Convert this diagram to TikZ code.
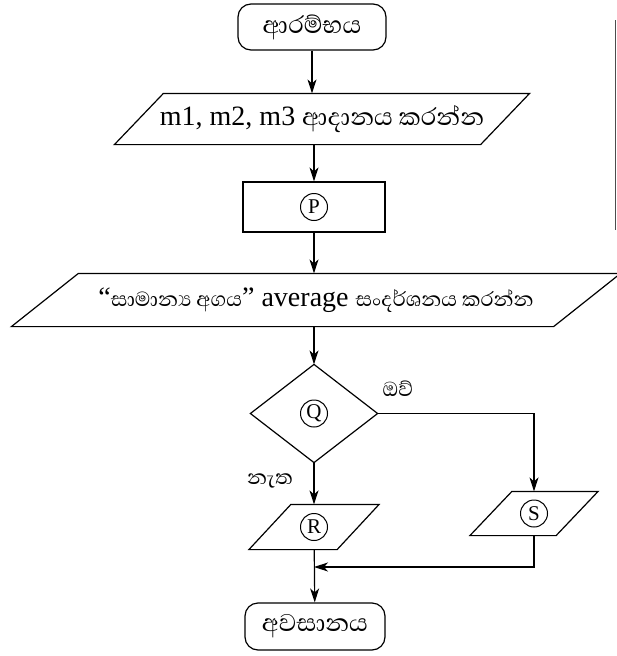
\documentclass[tikz,border=0pt]{standalone}
\usepackage{fontspec}
\setmainfont{Liberation Serif}
\newfontfamily\sinhfont[Script=Sinhala]{Abhaya Libre}
\usetikzlibrary{arrows.meta,calc}
\tikzset{
  x=1pt, y=-1pt,
  every path/.style={line width=1.2pt},
  arr/.style={-{Stealth[length=14pt,width=9pt,inset=4pt]}},
  term/.style={draw, rectangle, rounded corners=13pt, inner sep=0pt, line width=1.2pt},
  procbox/.style={draw, rectangle, inner sep=0pt, line width=1.2pt},
  plain/.style={rectangle, inner sep=0pt},
  letter/.style={draw, circle, minimum size=27pt, inner sep=0pt, line width=1pt, font=\fontsize{21}{21}\selectfont},
  lbl/.style={inner sep=0pt, font=\sinhfont\fontsize{26}{28}\selectfont}
}
\begin{document}
\begin{tikzpicture}
\useasboundingbox (0,0) rectangle (616,656);
% start
\node[term, minimum width=148pt, minimum height=46pt, font=\sinhfont\fontsize{31}{34}\selectfont] (start) at (312,27) {ආරම්භය};
% input parallelogram
\node[plain, minimum width=365pt, minimum height=50pt, font=\fontsize{28}{32}\selectfont] (inp) at (322,119) {m1, m2, m3 {\sinhfont\fontsize{31}{34}\selectfont ආදානය කරන්න}};
\draw ([xshift=24.5pt]inp.north west) -- ([xshift=24.5pt]inp.north east) -- ([xshift=-24.5pt]inp.south east) -- ([xshift=-24.5pt]inp.south west) -- cycle;
% process P
\node[procbox, minimum width=142pt, minimum height=50pt] (P) at (314,207) {};
\node[letter] (cP) at (P) {P};
% output parallelogram
\node[plain, minimum width=541pt, minimum height=52pt, font=\fontsize{28}{32}\selectfont] (out) at (316,300) {“{\sinhfont\fontsize{26}{30}\selectfont සාමාන්‍ය අගය}” average {\sinhfont\fontsize{26}{30}\selectfont සංදර්ශනය කරන්න}};
\draw ([xshift=33.5pt]out.north west) -- ([xshift=33.5pt]out.north east) -- ([xshift=-33.5pt]out.south east) -- ([xshift=-33.5pt]out.south west) -- cycle;
% decision Q
\node[plain, minimum width=126pt, minimum height=97pt] (Q) at (314,413.5) {};
\draw (Q.north) -- (Q.east) -- (Q.south) -- (Q.west) -- cycle;
\node[letter] (cQ) at (Q) {Q};
% R parallelogram
\node[plain, minimum width=87pt, minimum height=44pt] (R) at (314,527) {};
\draw ([xshift=21pt]R.north west) -- ([xshift=21pt]R.north east) -- ([xshift=-21pt]R.south east) -- ([xshift=-21pt]R.south west) -- cycle;
\node[letter] (cR) at (R) {R};
% S parallelogram
\node[plain, minimum width=85pt, minimum height=43pt] (S) at (534,513.5) {};
\draw ([xshift=21pt]S.north west) -- ([xshift=21pt]S.north east) -- ([xshift=-21pt]S.south east) -- ([xshift=-21pt]S.south west) -- cycle;
\node[letter] (cS) at (S) {S};
% end
\node[term, minimum width=140pt, minimum height=47pt, font=\sinhfont\fontsize{31}{34}\selectfont] (end) at (315,626.5) {අවසානය};
% labels
\node[lbl] (yes) at (398,389) {ඔව්};
\node[lbl] (no) at (270,481) {නැත};
\coordinate (m) at (314,567);
% connectors
\draw[arr] (start) -- (start |- inp.north);
\draw[arr] (P |- inp.south) -- (P);
\draw[arr] (P) -- (P |- out.north);
\draw[arr] (Q |- out.south) -- (Q);
\draw[arr] (Q.east) -| (S.north);
\draw[arr] (Q.south) -- (R.north);
\draw[arr] (R) -- (end);
\draw[arr] (S.south) |- (m);
% page edge mark
\draw[line width=0.8pt, black!70] (615,20) -- (615,230);
\end{tikzpicture}
\end{document}
